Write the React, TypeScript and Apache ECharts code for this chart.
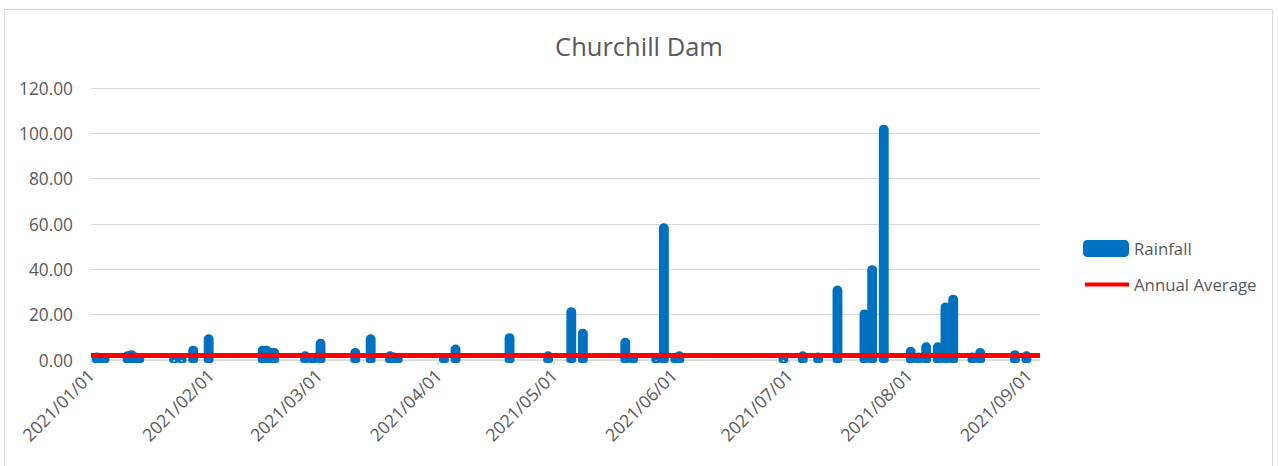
import React, { useEffect, useRef } from "react";
import * as echarts from "echarts";

const rainDates: string[] = [
  "2021-01-02", "2021-01-03", "2021-01-04", "2021-01-10", "2021-01-11", "2021-01-12", "2021-01-13",
  "2021-01-22", "2021-01-24", "2021-01-27", "2021-01-31",
  "2021-02-14", "2021-02-15", "2021-02-16", "2021-02-17", "2021-02-25", "2021-02-27",
  "2021-03-01", "2021-03-10", "2021-03-14", "2021-03-19", "2021-03-20", "2021-03-21",
  "2021-04-02", "2021-04-05", "2021-04-19", "2021-04-29",
  "2021-05-05", "2021-05-08", "2021-05-19", "2021-05-21", "2021-05-27", "2021-05-29",
  "2021-06-01", "2021-06-02", "2021-06-29",
  "2021-07-04", "2021-07-08", "2021-07-13", "2021-07-20", "2021-07-22", "2021-07-25",
  "2021-08-01", "2021-08-03", "2021-08-05", "2021-08-08", "2021-08-10", "2021-08-12",
  "2021-08-17", "2021-08-19", "2021-08-28", "2021-08-31",
];
const rainValues: number[] = [
  2.0, 1.5, 1.0, 2.5, 3.0, 2.0, 1.5,
  0.5, 0.5, 5.0, 10.0,
  5.0, 5.0, 4.0, 4.0, 2.5, 1.5,
  8.0, 4.0, 10.0, 2.5, 2.0, 1.5,
  1.8, 5.5, 10.5, 2.5,
  22.0, 12.5, 8.5, 1.5, 1.0, 59.0,
  1.5, 2.5, 0.5,
  2.5, 2.0, 31.5, 21.0, 40.5, 102.5,
  4.5, 2.0, 6.5, 6.5, 24.0, 27.5,
  2.0, 4.0, 3.0, 2.5,
];

const avgDates: string[] = ["2021-01-01", "2021-09-04"];
const avgValues: number[] = [2.0, 2.0];

const monthTicks: string[] = [
  "2021-01-01", "2021-02-01", "2021-03-01", "2021-04-01", "2021-05-01",
  "2021-06-01", "2021-07-01", "2021-08-01", "2021-09-01",
];
const axisStart = "2021-01-01";
const axisEnd = "2021-09-04";
const yTicks = { min: 0, max: 120, interval: 20 };

const DAY = 86400000;
const utc = (s: string) => {
  const [y, m, d] = s.split("-").map(Number);
  return Date.UTC(y, m - 1, d);
};
const dayIndex = (s: string) => Math.round((utc(s) - utc(axisStart)) / DAY);
const pad = (n: number) => (n < 10 ? "0" + n : "" + n);
const fmtDay = (v: number) => {
  const d = new Date(utc(axisStart) + Math.round(v) * DAY);
  return `${d.getUTCFullYear()}/${pad(d.getUTCMonth() + 1)}/${pad(d.getUTCDate())}`;
};

const FONT = "Open Sans";
const GREY = "#595959";
const BLUE = "#0070C0";

export default function App() {
  const ref = useRef<HTMLDivElement>(null);
  useEffect(() => {
    if (!ref.current) return;
    const chart = echarts.init(ref.current, null, { renderer: "svg" });
    const tickDays = monthTicks.map(dayIndex);
    const legendText = { fontFamily: FONT, fontSize: 16.8, color: GREY };
    chart.setOption({
      animation: false,
      backgroundColor: "#ffffff",
      textStyle: { fontFamily: FONT },
      title: {
        text: "Churchill Dam",
        left: "center",
        top: 28,
        textStyle: { fontFamily: FONT, fontSize: 25.5, fontWeight: "normal", color: GREY },
      },
      graphic: [
        {
          type: "rect",
          shape: { x: 4.5, y: 9.5, width: 1268, height: 470 },
          style: { fill: "none", stroke: "#D9D9D9", lineWidth: 1 },
          silent: true,
        },
      ],
      legend: [
        {
          orient: "vertical",
          left: 1083,
          top: 240,
          itemWidth: 46,
          itemHeight: 17,
          padding: 0,
          textStyle: legendText,
          itemStyle: { color: BLUE },
          data: [{ name: "Rainfall", icon: "roundRect" }],
        },
        {
          orient: "vertical",
          left: 1085,
          top: 276,
          itemWidth: 44,
          itemHeight: 4,
          padding: 0,
          textStyle: legendText,
          data: [{ name: "Annual Average", icon: "rect" }],
        },
      ],
      grid: { left: 91, right: 238, top: 88, bottom: 106, containLabel: false },
      xAxis: {
        type: "value",
        min: dayIndex(axisStart),
        max: dayIndex(axisEnd),
        axisLine: { show: true, onZero: false, lineStyle: { color: "#D9D9D9", width: 1.5 } },
        axisTick: {
          show: true,
          customValues: tickDays,
          length: 5,
          lineStyle: { color: "#D9D9D9", width: 1.5 },
        },
        axisLabel: {
          customValues: tickDays,
          rotate: 45,
          formatter: (v: number) => fmtDay(v),
          fontFamily: FONT,
          fontSize: 17.5,
          color: GREY,
          margin: 12,
        },
        splitLine: { show: false },
      },
      yAxis: {
        type: "value",
        min: yTicks.min,
        max: yTicks.max,
        interval: yTicks.interval,
        axisLine: { show: false },
        axisTick: { show: false },
        axisLabel: {
          formatter: (v: number) => v.toFixed(2),
          fontFamily: FONT,
          fontSize: 17.3,
          color: GREY,
          margin: 18,
        },
        splitLine: { lineStyle: { color: "#D9D9D9", width: 1.2 } },
      },
      series: [
        {
          name: "Rainfall",
          type: "custom",
          clip: false,
          itemStyle: { color: BLUE },
          data: rainDates.map((d, i) => [dayIndex(d) + 0.5, rainValues[i]]),
          renderItem: (_params: any, api: any) => {
            const x = api.value(0);
            const v = api.value(1);
            const top = api.coord([x, v]);
            const base = api.coord([x, 0]);
            const w = api.size([1, 0])[0];
            const h = base[1] - top[1];
            const r = Math.min(w / 2, h) * 0.95;
            return {
              type: "rect",
              shape: { x: top[0] - w / 2, y: top[1], width: w, height: h, r: [r, r, 0, 0] },
              style: { fill: BLUE, stroke: BLUE, lineWidth: 6, lineJoin: "round" },
            };
          },
          z: 2,
        },
        {
          name: "Annual Average",
          type: "line",
          symbol: "none",
          clip: false,
          data: avgDates.map((d, i) => [dayIndex(d), avgValues[i]]),
          lineStyle: { color: "#FF0000", width: 5 },
          itemStyle: { color: "#FF0000" },
          z: 3,
        },
      ],
    });
    return () => chart.dispose();
  }, []);
  return (
    <div
      ref={ref}
      style={{ position: "fixed", left: 0, top: 0, width: 1278, height: 466, background: "#fff" }}
    />
  );
}
